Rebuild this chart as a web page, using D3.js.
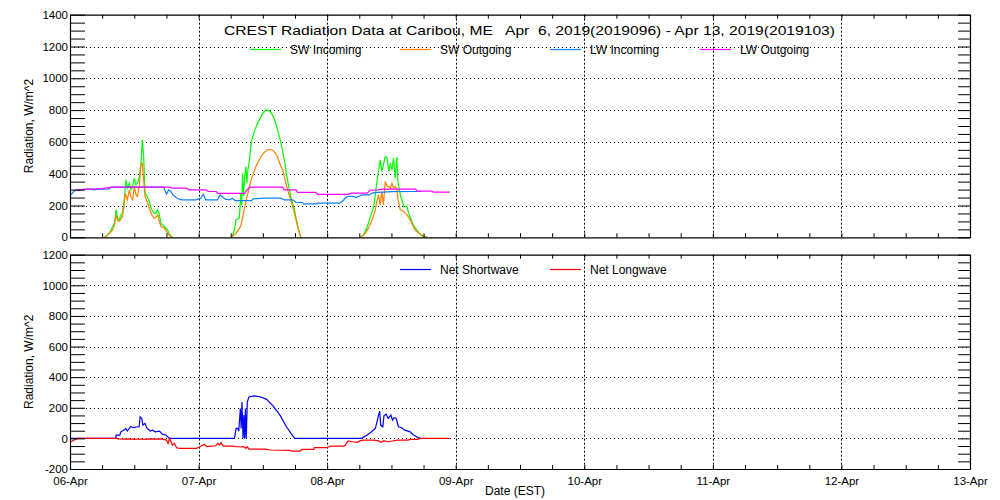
<!DOCTYPE html>
<html>
<head>
<meta charset="utf-8">
<script src="https://cdn.jsdelivr.net/npm/d3@7"></script>
<style>
  html, body { margin: 0; padding: 0; background: #fff; }
  svg { display: block; }
  text { font-family: "Liberation Sans", Arial, sans-serif; fill: #000; }
</style>
</head>
<body>
<svg id="chart" width="1000" height="500"></svg>
<script>
// ---------------- DATA (hours since 06-Apr 00:00 EST, W/m^2) ----------------
const dayLabels = ["06-Apr","07-Apr","08-Apr","09-Apr","10-Apr","11-Apr","12-Apr","13-Apr"];
const topTicks = [0,200,400,600,800,1000,1200,1400];
const bottomTicks = [-200,0,200,400,600,800,1000,1200];
const titleText = "CREST Radiation Data at Caribou, ME   Apr  6, 2019(2019096) - Apr 13, 2019(2019103)";
const topLegend = ["SW Incoming","SW Outgoing","LW Incoming","LW Outgoing"];
const bottomLegend = ["Net Shortwave","Net Longwave"];

const swIncoming = [[6.4,0],[7.0,15],[7.5,35],[7.96,68],[8.3,90],[8.6,173],[8.9,120],[9.2,110],[9.5,140],[9.8,154],[10.1,230],[10.45,361],[10.7,309],[11.07,341],[11.4,300],[11.7,319],[12.0,372],[12.3,330],[12.6,341],[12.94,382],[13.25,466],[13.5,613],[13.75,508],[14.0,278],[14.4,257],[14.8,225],[15.05,190],[15.3,173],[15.7,152],[16.0,150],[16.36,173],[16.6,152],[16.98,89],[17.3,80],[17.6,68],[18.2,47],[18.5,25],[18.85,5],[19.1,0],
  [30.2,0],[30.7,47],[31.0,110],[31.3,115],[31.6,121],[31.9,278],[32.05,200],[32.2,403],[32.4,260],[32.6,380],[32.85,445],[33.0,340],[33.2,420],[33.5,487],[33.8,592],[34.4,665],[35.0,717],[35.65,759],[36.1,785],[36.6,801],[37.1,797],[37.5,785],[38.1,749],[38.75,676],[39.4,592],[40.0,487],[40.6,361],[41.2,257],[41.9,173],[42.5,68],[43.1,0],
  [54.2,0],[54.8,16],[55.4,58],[56.0,121],[56.7,194],[57.0,267],[57.3,351],[57.6,414],[57.9,487],[58.2,414],[58.5,456],[58.85,508],[59.2,498],[59.5,414],[59.8,466],[60.1,424],[60.4,498],[60.7,372],[61.0,505],[61.2,351],[61.65,267],[62.0,230],[62.3,194],[62.9,194],[63.2,152],[63.8,99],[64.2,70],[64.7,47],[65.1,30],[65.6,11],[66.2,0]];

const swOutgoing = [[6.4,0],[7.0,12],[7.5,30],[7.96,47],[8.3,80],[8.6,141],[8.9,105],[9.2,99],[9.5,115],[9.8,131],[10.1,200],[10.3,278],[10.7,236],[11.07,299],[11.4,250],[11.7,236],[12.0,319],[12.3,270],[12.6,257],[12.94,330],[13.25,456],[13.5,466],[13.75,361],[14.0,257],[14.4,225],[14.8,183],[15.3,141],[15.7,120],[16.0,125],[16.36,141],[16.6,110],[16.98,68],[17.6,58],[18.2,26],[18.6,10],[19.1,0],
  [30.2,0],[31.0,26],[31.5,50],[31.9,72],[32.2,120],[32.5,173],[32.85,230],[33.2,278],[33.8,361],[34.7,445],[35.65,508],[36.3,535],[36.9,550],[37.4,552],[37.9,546],[38.3,530],[38.75,508],[39.2,460],[39.7,424],[40.3,340],[40.7,290],[41.2,236],[41.9,152],[42.5,68],[42.8,30],[43.1,0],
  [54.2,0],[55.0,20],[55.5,45],[56.0,79],[56.5,120],[57.0,173],[57.3,230],[57.6,267],[57.9,204],[58.2,288],[58.5,204],[58.85,351],[59.2,320],[59.5,319],[59.8,309],[60.1,340],[60.4,309],[60.7,319],[61.0,309],[61.2,246],[61.65,173],[62.3,163],[62.9,141],[63.5,110],[64.0,75],[64.4,47],[65.0,30],[65.6,16],[66.2,6],[66.7,0]];

const lwIncoming = [[0,267],[0.4,275],[0.8,292],[1.3,298],[2,300],[3,303],[3.7,303],[4.5,298],[5.2,303],[6,303],[7.2,305],[7.8,315],[10,315],[12,315],[14,315],[16,315],[17.5,315],[18.0,271],[18.4,298],[18.8,290],[19.2,267],[19.8,250],[20.5,238],[21,236],[23.5,236],[24.4,245],[24.9,271],[25.3,236],[27.5,236],[28.0,267],[28.4,255],[29.0,240],[29.7,236],[30.3,245],[30.8,231],[33.9,231],[34.2,242],[36.2,246],[39.3,246],[40,236],[41.6,236],[42.2,219],[43.4,219],[43.6,210],[45.9,210],[46.2,215],[50.4,215],[50.8,225],[51.6,253],[52.0,257],[53.0,257],[53.4,250],[53.8,257],[54.5,267],[55.9,267],[56.5,280],[57.5,282],[58.5,284],[60,287],[62,288],[65.6,288]];

const lwOutgoing = [[1.2,295],[2,300],[3.7,303],[6,306],[7.8,315],[18.7,315],[19,309],[21.8,309],[22.2,298],[25.4,298],[25.8,288],[27.3,288],[27.6,276],[32.6,276],[33.0,298],[33.6,315],[39.7,315],[40,298],[42.2,298],[42.5,282],[45.9,282],[46.2,270],[52,270],[52.5,278],[55.5,278],[56,296],[57.5,298],[58.5,303],[64.5,303],[64.8,291],[67.5,291],[67.8,284],[70.9,284]];

const netShortwave = [[0,0],[8.6,0],[8.6,21],[9.3,21],[9.5,43],[10.1,54],[10.4,65],[10.7,48],[11.3,76],[11.9,70],[12.5,76],[12.9,76],[13.1,141],[13.4,130],[13.6,87],[14.0,98],[14.4,65],[15.0,48],[15.4,54],[15.9,43],[16.7,48],[17.3,26],[17.9,22],[18.2,11],[18.5,0],
  [30.7,0],[31.0,65],[31.3,65],[31.5,48],[31.8,195],[31.95,65],[32.1,238],[32.3,0],[32.45,152],[32.6,0],[32.75,195],[32.9,0],[33.1,238],[33.4,271],[34.3,278],[35.5,272],[36.7,255],[37.9,212],[39.2,152],[40.4,76],[41.7,11],[42.0,0],
  [54.4,0],[55.4,21],[56.3,43],[57.0,65],[57.3,108],[57.6,152],[57.8,178],[58.0,87],[58.4,76],[58.6,147],[59.0,158],[59.4,130],[59.9,152],[60.2,119],[60.5,135],[60.9,130],[61.3,76],[61.9,70],[62.5,54],[63.5,43],[64.0,26],[64.7,11],[65.3,0],[65.6,0]];

const netLongwave = [[0.2,-22],[0.8,-11],[1.4,0],[8.6,0],[9,-3],[10,-5],[11,-3],[12,-6],[13,-4],[14,-6],[15,-3],[16,-5],[17,-3],[18,-11],[18.3,-33],[18.6,0],[19.1,-43],[19.5,-33],[19.9,-61],[20.5,-65],[23.6,-65],[24.0,-59],[24.6,-48],[25.1,-39],[25.5,-54],[26.5,-50],[27.2,-48],[27.6,-33],[27.9,-43],[28.2,-28],[28.6,-50],[30.5,-50],[31,-54],[32.5,-56],[32.8,-65],[33.1,-54],[33.4,-70],[36.5,-70],[37.4,-76],[41.1,-78],[41.4,-83],[42.9,-83],[43.3,-72],[45.5,-72],[45.6,-61],[48,-61],[48.6,-50],[51.1,-50],[51.4,-43],[51.9,-17],[52.7,-22],[53.6,-26],[54.2,-15],[54.8,-11],[56.7,-11],[57.5,-15],[58.1,-26],[58.6,-15],[59.3,-22],[60.2,-17],[61.1,-11],[63,-11],[63.6,-6],[64.9,-6],[65.3,0],[70.9,0]];

const topColors = ["#00ff00","#ff7f00","#0a82f0","#ff00ff"];
const bottomColors = ["#0000ff","#ff0000"];

// ---------------- DRAWING ----------------
const svg = d3.select("#chart");
const X0 = 70, X1 = 970;
const x = d3.scaleLinear().domain([0, 168]).range([X0, X1]);
const panels = [
  { y: d3.scaleLinear().domain([0,1400]).range([237.3,14.7]), ticks: topTicks,
    series: [swIncoming, swOutgoing, lwIncoming, lwOutgoing], colors: topColors,
    splitNight: [true, true, false, false],
    legend: topLegend, legendY: 49.5, xLabels: false },
  { y: d3.scaleLinear().domain([-200,1200]).range([469,254.7]), ticks: bottomTicks,
    series: [netShortwave, netLongwave], colors: bottomColors,
    splitNight: [false, false],
    legend: bottomLegend, legendY: 269.5, xLabels: true }
];

// break a series where the night-time zero run lies on the axis (nothing to draw there)
function segments(s, split) {
  if (!split) return [s];
  const out = [[s[0]]];
  for (let i = 1; i < s.length; i++) {
    if (s[i][1] === 0 && s[i - 1][1] === 0 && s[i][0] - s[i - 1][0] > 2) out.push([]);
    out[out.length - 1].push(s[i]);
  }
  return out;
}

const hourTicks = d3.range(0, 169, 6);
const minorY = p => d3.range(p.y.domain()[0], p.y.domain()[1] + 1, 50);

panels.forEach(p => {
  const [yb, yt] = p.y.range();
  const g = svg.append("g");

  // grid
  const gridY = p.ticks.filter(v => v !== p.y.domain()[0] && v !== p.y.domain()[1]);
  g.selectAll(".hg").data(gridY).enter().append("line")
    .attr("x1", X0).attr("x2", X1)
    .attr("y1", d => Math.round(p.y(d)) + 0.5).attr("y2", d => Math.round(p.y(d)) + 0.5)
    .attr("stroke", "#000").attr("stroke-width", 1).attr("stroke-dasharray", "1,3");
  g.selectAll(".vg").data(d3.range(24, 168, 24)).enter().append("line")
    .attr("x1", d => Math.round(x(d)) + 0.5).attr("x2", d => Math.round(x(d)) + 0.5)
    .attr("y1", yt).attr("y2", yb)
    .attr("stroke", "#000").attr("stroke-width", 1).attr("stroke-dasharray", "2,2");

  // series
  const line = d3.line().x(d => x(d[0])).y(d => p.y(d[1]));
  p.series.forEach((s, i) => {
    segments(s, p.splitNight[i]).forEach(seg => {
      g.append("path").datum(seg).attr("d", line)
        .attr("fill", "none").attr("stroke", p.colors[i]).attr("stroke-width", 1.2);
    });
  });

  // axes
  const left = d3.axisLeft(p.y).tickValues(minorY(p)).tickSize(-15).tickSizeOuter(0).tickPadding(2)
    .tickFormat(d => p.ticks.includes(d) ? d : "");
  const ga = g.append("g").attr("transform", `translate(${X0},0)`).call(left);
  const right = d3.axisRight(p.y).tickValues(minorY(p)).tickSize(-12).tickSizeOuter(0).tickFormat("");
  const gr = g.append("g").attr("transform", `translate(${X1},0)`).call(right);
  const bottom = d3.axisBottom(x).tickValues(hourTicks).tickSize(-4).tickSizeOuter(0).tickPadding(8)
    .tickFormat(d => (p.xLabels && d % 24 === 0) ? dayLabels[d / 24] : "");
  const gb = g.append("g").attr("transform", `translate(0,${yb})`).call(bottom);
  const top = d3.axisTop(x).tickValues(hourTicks).tickSize(-4).tickSizeOuter(0).tickFormat("");
  const gt = g.append("g").attr("transform", `translate(0,${yt})`).call(top);
  [ga, gr, gb, gt].forEach(a => {
    a.selectAll("path").attr("stroke", "#000").attr("stroke-width", 1.2);
    a.selectAll("line").attr("stroke", "#000").attr("stroke-width", 1);
    a.selectAll("text").attr("font-size", 11.5).attr("font-family", "Liberation Sans, Arial, sans-serif").attr("fill", "#000");
  });

  // y title
  g.append("text").attr("transform", `translate(33,${(yb + yt) / 2}) rotate(-90)`)
    .attr("text-anchor", "middle").attr("font-size", 12).text("Radiation, W/m^2");

  // legend
  p.legend.forEach((name, i) => {
    const lx = (p.legend.length === 4 ? 250 : 400) + i * 150;
    g.append("line").attr("x1", lx).attr("x2", lx + 31)
      .attr("y1", p.legendY).attr("y2", p.legendY)
      .attr("stroke", p.colors[i]).attr("stroke-width", 1.2);
    g.append("text").attr("x", lx + 40).attr("y", p.legendY + 4)
      .attr("font-size", 12).text(name);
  });
});

// title
svg.append("text").attr("x", 224).attr("y", 35)
  .attr("font-size", 13).attr("xml:space", "preserve").style("white-space", "pre")
  .attr("textLength", 611).attr("lengthAdjust", "spacingAndGlyphs")
  .text(titleText);

// x title
svg.append("text").attr("x", 485).attr("y", 495).attr("font-size", 12).text("Date (EST)");
</script>
</body>
</html>
